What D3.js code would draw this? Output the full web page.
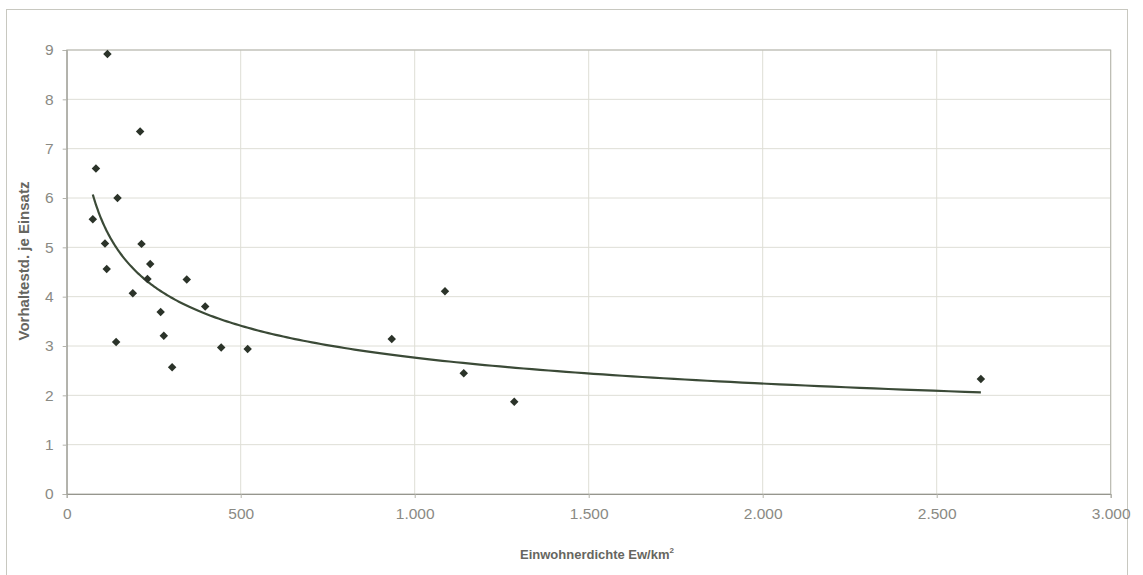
<!DOCTYPE html>
<html lang="de">
<head>
    <meta charset="UTF-8">
    <script src="https://d3js.org/d3.v7.min.js"></script>
    <title>Vorhaltestunden je Einsatz</title>
    <style>
        body { margin: 0; background: #fff; }
        svg text { font-family: Arial, "Liberation Sans", sans-serif; }
        .tick text { fill: #8a8a84; font-size: 15.5px; }
        .axis-title { fill: #666660; font-weight: bold; }
    </style>
</head>
<body>
<div id="chart"></div>
<script>
    // Data
    var density = [84, 146, 75, 110, 215, 115, 240, 232, 345, 190, 398, 270, 279, 142, 444, 520, 303,
                   117, 211, 1087, 934, 1141, 1286, 2627];
    var hours = [6.6, 6.0, 5.57, 5.08, 5.07, 4.56, 4.66, 4.36, 4.35, 4.07, 3.8, 3.69, 3.21, 3.08, 2.97, 2.94, 2.57,
                 8.92, 7.35, 4.11, 3.14, 2.45, 1.87, 2.33];
    var xTicks = [0, 500, 1000, 1500, 2000, 2500, 3000];
    var yTicks = [0, 1, 2, 3, 4, 5, 6, 7, 8, 9];

    var width = 1143, height = 575;
    var margin = { left: 66.7, right: 1110.7, top: 50, bottom: 494 };

    var svg = d3.select("#chart").append("svg")
        .attr("width", width)
        .attr("height", height);

    // outer chart frame
    svg.append("rect")
        .attr("x", 6.5).attr("y", 9.5)
        .attr("width", 1121).attr("height", 600)
        .attr("fill", "none")
        .attr("stroke", "#c8c8c0");

    var x = d3.scaleLinear().domain([0, 3000]).range([margin.left, margin.right]);
    var y = d3.scaleLinear().domain([0, 9]).range([margin.bottom, margin.top]);

    var fmt = function (d) {
        return d3.format(",")(d).replace(/,/g, ".");
    };

    // gridlines
    svg.append("g").selectAll("line")
        .data(yTicks.slice(1))
        .enter().append("line")
        .attr("x1", margin.left).attr("x2", margin.right)
        .attr("y1", function (d) { return y(d); })
        .attr("y2", function (d) { return y(d); })
        .attr("stroke", "#deded6");

    svg.append("g").selectAll("line")
        .data(xTicks.slice(1))
        .enter().append("line")
        .attr("y1", margin.top).attr("y2", margin.bottom)
        .attr("x1", function (d) { return x(d); })
        .attr("x2", function (d) { return x(d); })
        .attr("stroke", "#deded6");

    // plot border
    svg.append("rect")
        .attr("x", margin.left).attr("y", margin.top)
        .attr("width", margin.right - margin.left)
        .attr("height", margin.bottom - margin.top)
        .attr("fill", "none")
        .attr("stroke", "#b4b4ac");

    // axes
    var xAxis = svg.append("g")
        .attr("transform", "translate(0," + margin.bottom + ")")
        .call(d3.axisBottom(x).tickValues(xTicks).tickFormat(fmt).tickSize(4).tickPadding(10));
    var yAxis = svg.append("g")
        .attr("transform", "translate(" + margin.left + ",0)")
        .call(d3.axisLeft(y).tickValues(yTicks).tickSize(4).tickPadding(9));
    [xAxis, yAxis].forEach(function (a) {
        a.select(".domain").attr("stroke", "#96968e");
        a.selectAll(".tick line").attr("stroke", "#b4b4ac");
    });

    // power trendline fitted in log space (as the spreadsheet does)
    var lx = density.map(Math.log), ly = hours.map(Math.log);
    var mx = d3.mean(lx), my = d3.mean(ly);
    var b = d3.sum(lx, function (v, i) { return (v - mx) * (ly[i] - my); }) /
            d3.sum(lx, function (v) { return (v - mx) * (v - mx); });
    var a = Math.exp(my - b * mx);
    var xMin = d3.min(density), xMax = d3.max(density);
    var curveX = d3.range(0, 201).map(function (i) {
        return xMin * Math.pow(xMax / xMin, i / 200);
    });

    svg.append("path")
        .datum(curveX)
        .attr("fill", "none")
        .attr("stroke", "#3b4a37")
        .attr("stroke-width", 2.2)
        .attr("d", d3.line()
            .x(function (d) { return x(d); })
            .y(function (d) { return y(a * Math.pow(d, b)); }));

    // markers: square turned 45 degrees, like the spreadsheet diamond
    svg.append("g").selectAll("path")
        .data(density)
        .enter().append("path")
        .attr("transform", function (d, i) {
            return "translate(" + x(d) + "," + y(hours[i]) + ") rotate(45)";
        })
        .attr("d", d3.symbol().type(d3.symbolSquare).size(36))
        .attr("fill", "#2b3329");

    // axis titles
    var xTitle = svg.append("text")
        .attr("class", "axis-title")
        .attr("x", 597)
        .attr("y", 559)
        .attr("text-anchor", "middle")
        .style("font-size", "13px")
        .text("Einwohnerdichte Ew/km");
    xTitle.append("tspan")
        .attr("dy", -6)
        .style("font-size", "8px")
        .text("2");

    svg.append("text")
        .attr("class", "axis-title")
        .attr("transform", "translate(29," + 261 + ") rotate(-90)")
        .attr("text-anchor", "middle")
        .style("font-size", "15px")
        .text("Vorhaltestd. je Einsatz");
</script>
</body>
</html>
